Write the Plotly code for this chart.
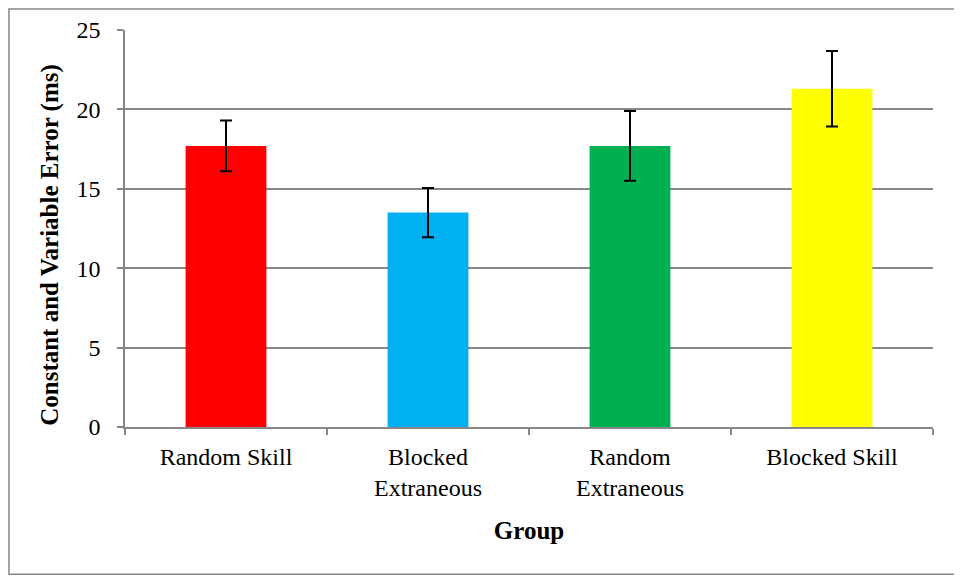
import plotly.graph_objects as go

groups = ["Random Skill", "Blocked<br>Extraneous", "Random<br>Extraneous", "Blocked Skill"]
mean_error = [17.7, 13.5, 17.7, 21.3]
std_error = [1.6, 1.55, 2.2, 2.37]
bar_colors = ["#FF0000", "#00B0F0", "#00B050", "#FFFF00"]

serif = "Liberation Serif, Times New Roman, serif"
grid_col = "#868686"

fig = go.Figure()
fig.add_trace(go.Bar(
    x=groups, y=mean_error,
    marker=dict(color=bar_colors, line=dict(width=0)),
    width=0.4,
    error_y=dict(type="data", array=std_error, visible=True,
                 color="black", thickness=2, width=6),
))

# outer chart border
fig.add_shape(type="rect", xref="paper", yref="paper",
              x0=-0.1436, x1=1.0334, y0=-0.371, y1=1.0528,
              line=dict(color="#868686", width=1.5), layer="below")

# y axis title, sits a bit lower than the plot centre like the original
fig.add_annotation(text="<b>Constant and Variable Error (ms)</b>", textangle=-90,
                   xref="paper", yref="paper", x=-0.0928, y=0.459,
                   xanchor="center", yanchor="middle",
                   showarrow=False, font=dict(family=serif, size=25))

fig.update_layout(
    width=962, height=577,
    margin=dict(l=117, r=37, t=22, b=157.5),
    plot_bgcolor="white", paper_bgcolor="white",
    showlegend=False, bargap=0.6,
    font=dict(family=serif, color="black", size=24),
)
fig.update_xaxes(
    showline=True, linecolor=grid_col, linewidth=1.5,
    ticks="outside", tickson="boundaries", ticklen=6, tickcolor=grid_col, tickwidth=1.5,
    tickfont=dict(family=serif, size=24), ticklabelstandoff=7,
    title=dict(text="<b>Group</b>", font=dict(family=serif, size=25), standoff=22),
    automargin=False,
)
fig.update_yaxes(
    range=[0, 25], dtick=5,
    showgrid=True, gridcolor=grid_col, gridwidth=1.5,
    showline=True, linecolor=grid_col, linewidth=1.5,
    ticks="outside", ticklen=6, tickcolor=grid_col, tickwidth=1.5,
    tickfont=dict(family=serif, size=24), ticklabelstandoff=12,
    zeroline=False,
    automargin=False,
)

fig.write_html("out.html")
